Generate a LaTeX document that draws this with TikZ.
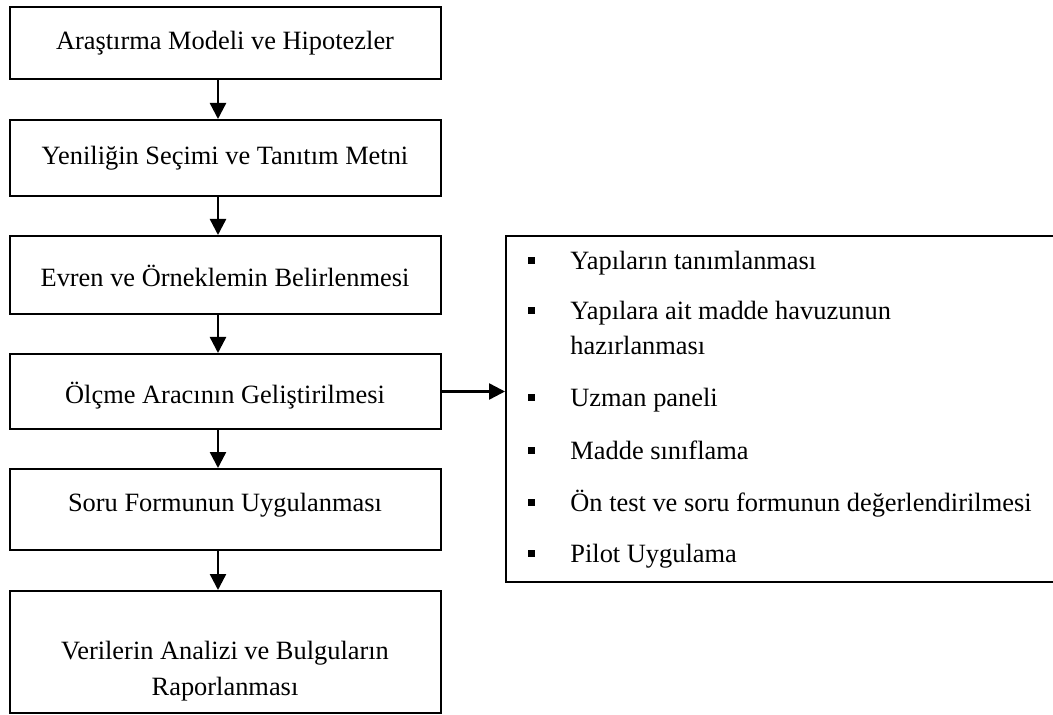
\documentclass[tikz,border=0pt]{standalone}
\usepackage{fontspec}
\setmainfont{Liberation Serif}
\usetikzlibrary{arrows.meta}
\begin{document}
\begin{tikzpicture}[x=0.5pt,y=-0.5pt,
  stepbox/.style={draw, line width=1pt, minimum width=215.5pt, inner sep=0pt},
  lbl/.style={font=\fontsize{13.2}{18}\selectfont, anchor=base, inner sep=0pt},
  arr/.style={line width=1.2pt, -{Triangle[width=8pt,length=8pt]}},
  bullet/.style={fill, minimum size=3.5pt, inner sep=0pt},
  item/.style={font=\fontsize{13.2}{17.5}\selectfont, anchor=base west, inner sep=0pt}
]
\useasboundingbox (0,0) rectangle (1053,715);
\clip (0,0) rectangle (1053,715);

% main process column
\node[stepbox, minimum height=36pt]   (b1) at (225.5,43)    {};
\node[stepbox, minimum height=38pt]   (b2) at (225.5,158)   {};
\node[stepbox, minimum height=39pt]   (b3) at (225.5,275)   {};
\node[stepbox, minimum height=37.5pt] (b4) at (225.5,391.5) {};
\node[stepbox, minimum height=40.5pt] (b5) at (225.5,509.5) {};
\node[stepbox, minimum height=61pt]   (b6) at (225.5,652)   {};

\node[lbl] (t1) at (225,50)  {Araştırma Modeli ve Hipotezler};
\node[lbl] (t2) at (225,165) {Yeniliğin Seçimi ve Tanıtım Metni};
\node[lbl] (t3) at (225,287) {Evren ve Örneklemin Belirlenmesi};
\node[lbl] (t4) at (225,404) {Ölçme Aracının Geliştirilmesi};
\node[lbl] (t5) at (225,511) {Soru Formunun Uygulanması};
\node[lbl] (t6a) at (225,659) {Verilerin Analizi ve Bulguların};
\node[lbl] (t6b) at (225,695) {Raporlanması};

% arrows between the steps
\coordinate (ax) at (218,0);
\draw[arr] (b1.south -| ax) -- (b2.north -| ax);
\draw[arr] (b2.south -| ax) -- (b3.north -| ax);
\draw[arr] (b3.south -| ax) -- (b4.north -| ax);
\draw[arr] (b4.south -| ax) -- (b5.north -| ax);
\draw[arr] (b5.south -| ax) -- (b6.north -| ax);

% sub-steps of the instrument development
\node[draw, line width=1pt, minimum width=277pt, minimum height=173pt, inner sep=0pt] (rb) at (783,409) {};
\draw[arr] (b4.east) -- (b4.east -| rb.west);

\node[bullet] (k1) at (531,261) {};
\node[item] (i1) at (570,270) {Yapıların tanımlanması};
\node[bullet] (k2) at (531,311) {};
\node[item] (i2) at (570,320) {Yapılara ait madde havuzunun};
\node[item] (i2b) at (570,355) {hazırlanması};
\node[bullet] (k3) at (531,398) {};
\node[item] (i3) at (570,407) {Uzman paneli};
\node[bullet] (k4) at (531,450) {};
\node[item] (i4) at (570,459) {Madde sınıflama};
\node[bullet] (k5) at (531,502) {};
\node[item] (i5) at (570,511) {Ön test ve soru formunun değerlendirilmesi};
\node[bullet] (k6) at (531,553) {};
\node[item] (i6) at (570,562) {Pilot Uygulama};
\end{tikzpicture}
\end{document}
